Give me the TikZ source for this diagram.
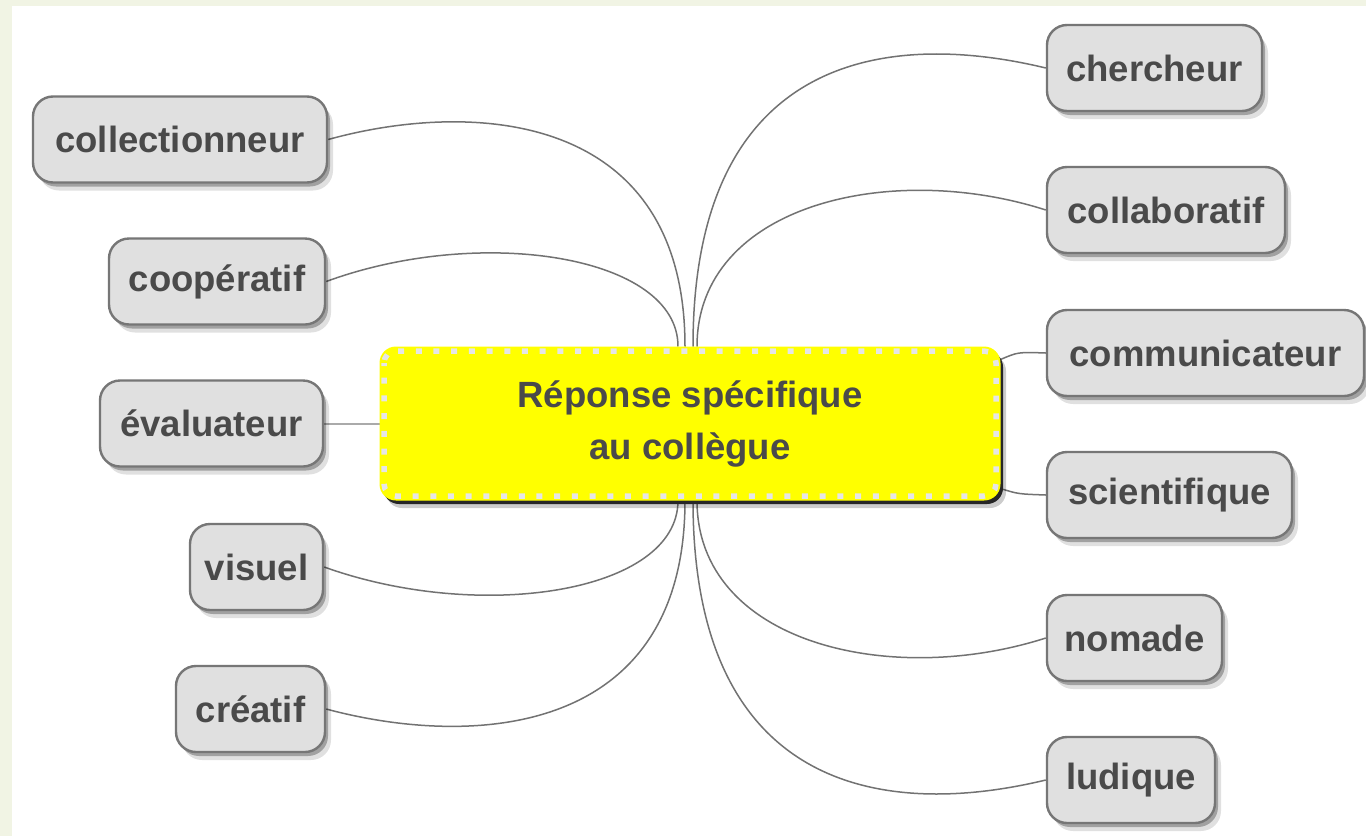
\documentclass[tikz,border=0pt]{standalone}
\usepackage{fontspec}
\setmainfont{Liberation Sans}
\usetikzlibrary{calc,shadows}
\definecolor{bgout}{HTML}{F1F4E4}
\definecolor{boxfill}{HTML}{E0E0E0}
\definecolor{boxdraw}{HTML}{767676}
\definecolor{txt}{HTML}{4A4A4A}
\definecolor{edgec}{HTML}{727272}
\definecolor{dotc}{HTML}{E6E6E6}
\definecolor{hubyellow}{HTML}{FFFF00}
\pgfdeclarelayer{back}
\pgfdeclarelayer{links}
\pgfsetlayers{back,links,main}
\begin{document}
\begin{tikzpicture}[x=1pt,y=-1pt,
  leaf/.style={draw=boxdraw, line width=2.4pt, fill=boxfill, rounded corners=20pt,
    minimum height=86pt, inner sep=0pt, text=txt,
    font=\fontsize{36.5}{44}\selectfont\bfseries,
    drop shadow={shadow xshift=6pt,shadow yshift=-8pt,fill=black,opacity=.12},
    drop shadow={shadow xshift=3pt,shadow yshift=-4pt,fill=black,opacity=.28}},
  hub/.style={draw=hubyellow, line width=1pt, fill=hubyellow, rounded corners=16pt,
    minimum width=620pt, minimum height=153pt, inner sep=0pt, text=txt, align=center,
    font=\fontsize{36.5}{52}\selectfont\bfseries,
    drop shadow={shadow xshift=6pt,shadow yshift=-8pt,fill=black,opacity=.2},
    drop shadow={shadow xshift=3pt,shadow yshift=-4pt,fill=black!85,opacity=1}},
  link/.style={draw=edgec, line width=1.5pt},
  lightlink/.style={draw=edgec!60, line width=2pt},
  dots/.style={draw=dotc, line width=5.5pt, dash pattern=on 6pt off 11.7pt, dash phase=3pt, rounded corners=12pt}
]
\useasboundingbox (0,0) rectangle (1366,836);
\begin{pgfonlayer}{back}
\fill[bgout] (0,0) rectangle (1366,836);
\fill[white] (12,6) rectangle (1366,836);
\end{pgfonlayer}

% central node
\node[hub] (hub) at (690,423.5) {Réponse spécifique\\au collègue};
\draw[dots] ($(hub.north west)+(4.5,4.5)$) rectangle ($(hub.south east)+(-4.5,-4.5)$);

% left nodes
\node[leaf, minimum width=294pt] (collectionneur) at (180,139.5) {collectionneur};
\node[leaf, minimum width=216pt] (cooperatif) at (217,281.5) {coopératif};
\node[leaf, minimum width=223pt] (evaluateur) at (211.5,423.5) {évaluateur};
\node[leaf, minimum width=133pt] (visuel) at (256.5,567) {visuel};
\node[leaf, minimum width=149pt] (creatif) at (250.5,709) {créatif};

% right nodes
\node[leaf, minimum width=215pt] (chercheur) at (1154.5,68) {chercheur};
\node[leaf, minimum width=238pt] (collaboratif) at (1166,210) {collaboratif};
\node[leaf, minimum width=317pt] (communicateur) at (1205.5,353) {communicateur};
\node[leaf, minimum width=245pt] (scientifique) at (1169.5,495) {scientifique};
\node[leaf, minimum width=175pt] (nomade) at (1134.5,638) {nomade};
\node[leaf, minimum width=168pt] (ludique) at (1131,780) {ludique};

\begin{pgfonlayer}{links}
% top-left
\draw[link] (collectionneur.east) .. controls (471,100) and (685,110) .. ($(hub.north)+(-5,0)$);
\draw[link] (cooperatif.east) .. controls (480,225) and (678,255) .. ($(hub.north)+(-12,0)$);
% middle-left
\draw[lightlink] (evaluateur.east) -- (hub.west);
% bottom-left
\draw[link] (visuel.east) .. controls (480,623) and (678,593) .. ($(hub.south)+(-12,0)$);
\draw[link] (creatif.east) .. controls (471,748) and (685,738) .. ($(hub.south)+(-5,0)$);
% top-right
\draw[link] (chercheur.west) .. controls (880,28) and (693,60) .. ($(hub.north)+(3,0)$);
\draw[link] (collaboratif.west) .. controls (890,160) and (697,205) .. ($(hub.north)+(7,0)$);
% middle-right
\draw[link] ($(hub.north east)+(0,13)$) .. controls (1018,352) .. (communicateur.west);
\draw[link] ($(hub.south east)+(0,-12)$) .. controls (1018,494) .. (scientifique.west);
% bottom-right
\draw[link] (nomade.west) .. controls (890,688) and (697,643) .. ($(hub.south)+(7,0)$);
\draw[link] (ludique.west) .. controls (880,820) and (693,788) .. ($(hub.south)+(3,0)$);
\end{pgfonlayer}
\end{tikzpicture}
\end{document}
